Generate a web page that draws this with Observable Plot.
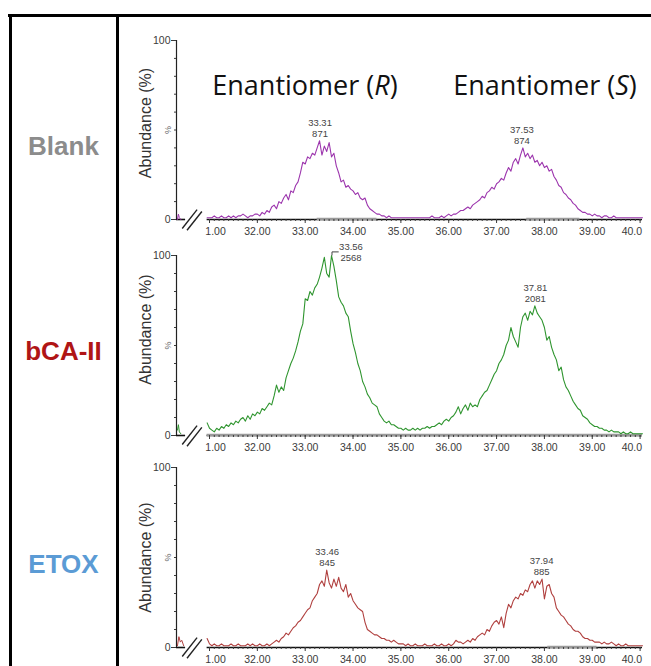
<!DOCTYPE html>
<html><head><meta charset="utf-8">
<script src="https://cdn.jsdelivr.net/npm/d3@7"></script>
<script src="https://cdn.jsdelivr.net/npm/@observablehq/plot@0.6"></script>
<style>
body{margin:0;background:#fff;}
#root{position:relative;width:651px;height:666px;overflow:hidden;font-family:"Liberation Sans",Arial,sans-serif;background:#fff;}
.bar{position:absolute;background:#000;}
.lab{position:absolute;left:10px;width:107px;text-align:center;font-weight:bold;font-size:26px;line-height:26px;white-space:nowrap;}
.title{position:absolute;width:300px;text-align:center;font-family:"Open Sans",sans-serif;font-size:27px;line-height:27px;color:#111;white-space:nowrap;}
.panel{position:absolute;left:0;}
</style></head>
<body><div id="root"></div>
<script>
// ---- sampling grid of the chromatograms (min) ----
const sampleStart = 30.95, sampleStep = 0.05;

// ---- relative abundance (%), 30.95 .. 40.05 min ----
const blankValues = [1,
  1,1,2,1,1,2,1,1,2,1,2,1,2,2,3,2,1,2,2,3,
  3,2,4,3,5,4,7,8,6,10,9,12,14,11,16,15,19,21,26,32,
  31,35,34,37,36,40,44,36,41,38,43,35,37,30,26,21,22,18,19,17,
  16,14,15,12,11,12,8,6,5,4,3,3,2,2,1,2,1,1,1,1,
  1,1,1,1,1,1,1,1,1,1,1,1,1,2,1,1,1,2,1,2,
  3,2,3,3,4,5,5,6,7,6,8,9,10,11,13,12,15,16,18,17,
  20,21,23,22,26,29,27,32,34,31,36,40,35,37,34,36,32,33,30,32,
  29,30,27,28,24,22,19,18,15,14,12,11,9,8,6,5,4,4,3,3,
  2,3,2,2,1,2,2,1,1,2,1,1,1,1,1,1,1,1,1,1,
  1,1];
const bcaValues = [7,
  4,3,2,4,3,5,4,6,5,7,6,8,7,9,10,8,11,9,12,11,
  13,12,15,14,16,18,17,22,28,24,27,25,32,36,40,43,47,52,58,62,
  76,75,80,78,82,84,88,93,99,90,88,100,94,86,77,74,72,68,66,58,
  51,46,40,36,30,27,23,21,18,17,16,12,10,8,7,8,6,6,5,4,
  4,3,4,3,3,4,3,4,3,4,4,5,4,5,5,6,7,6,8,9,
  8,10,11,13,16,12,15,17,14,18,16,17,16,20,22,24,25,28,31,34,
  36,40,42,45,50,53,60,55,52,49,60,66,68,64,69,67,72,68,66,64,
  60,53,55,49,45,42,36,38,31,27,25,22,19,17,15,14,11,10,9,7,
  6,5,5,4,4,3,3,2,3,2,2,2,1,2,1,1,2,1,1,1,
  1,1];
const etoxValues = [5,
  2,1,2,1,1,2,1,1,1,2,1,1,2,1,1,1,2,1,2,1,
  1,2,1,1,2,1,2,3,4,3,5,6,8,7,9,11,12,14,15,17,
  19,21,22,26,28,30,35,37,34,43,36,33,38,34,39,33,31,35,28,30,
  26,24,22,21,20,14,10,9,8,7,7,6,5,5,4,4,3,4,3,2,
  2,2,1,2,1,1,2,1,1,1,2,1,1,1,2,1,1,2,1,1,
  2,1,2,4,3,3,2,3,4,3,5,4,6,7,8,7,10,9,12,14,
  15,13,17,11,19,24,22,26,28,27,30,29,32,31,35,37,33,37,35,38,
  27,34,35,30,28,22,20,18,17,15,13,12,10,9,9,8,6,5,5,4,
  4,3,3,3,2,3,2,2,3,2,1,2,1,1,2,1,1,1,1,1,
  1,1];

// ---- small signal before the axis break [time, %] ----
const blankPre = [[30.33,0],[30.35,3],[30.37,1],[30.40,0]];
const bcaPre   = [[30.33,3],[30.35,6],[30.37,2],[30.40,1]];
const etoxPre  = [[30.33,1],[30.36,6],[30.39,3],[30.42,4],[30.46,1]];

// ---- integration baselines [start, end] (min) ----
const blankIntegr = [[33.25,34.5],[37.63,38.74]];
const bcaIntegr   = [[30.95,40.05]];
const etoxIntegr  = [[38.07,39.1]];

// ---- peak annotations ----
const blankPeakTimes = [33.31, 37.53], blankPeakAreas = [871, 874],  blankPeakHeights = [44, 40];
const bcaPeakTimes   = [33.56, 37.81], bcaPeakAreas   = [2568, 2081], bcaPeakHeights   = [100, 72];
const etoxPeakTimes  = [33.46, 37.94], etoxPeakAreas  = [845, 885],  etoxPeakHeights  = [43, 38];

// ---- labels and ticks ----
const rowLabels = ["Blank", "bCA-II", "ETOX"];
const rowColors = ["#8c8c8c", "#b01515", "#5b9bd5"];
const traceColors = ["#9c35ad", "#2f952f", "#b0403f"];
const xDomain = [30.31, 40.05];
const majorTicks = [31,32,33,34,35,36,37,38,39,40];
const majorLabels = ["","32.00","33.00","34.00","35.00","36.00","37.00","38.00","39.00",""];
const firstTickLabel = "1.00", lastTickLabel = "40.0";
const yTicks = [0, 100], yTickLabels = ["0", "100"];
const yMinorTicks = [0,10,20,30,40,50,60,70,80,90,100];
const minorTicks = d3.range(310, 401).map(d => d / 10);

const root = document.getElementById("root");

function panel(values, pre, integr, pTimes, pAreas, pHeights, color, opts) {
  const trace = values.map((v, i) => ({t: sampleStart + i * sampleStep, v}));
  const t0 = trace[0].t, tEnd = trace[trace.length - 1].t;
  const preData = pre.map(([t, v]) => ({t, v}));
  const integrData = integr.map(([a, b]) => ({a, b}));
  const peaks = pTimes.map((t, i) => ({t, v: pHeights[i], area: pAreas[i]}));
  const lowPeaks = peaks.filter(p => p.v < 95), topPeaks = peaks.filter(p => p.v >= 95);
  const breaks = [
    {x1: t0 - 0.52, y1: -5, x2: t0 - 0.21, y2: 5.5},
    {x1: t0 - 0.42, y1: -6, x2: t0 - 0.11, y2: 4.5}
  ];
  return Plot.plot({
    width: 651, height: opts.height,
    marginLeft: 176, marginRight: 9, marginTop: 30, marginBottom: 20,
    style: {background: "transparent", fontFamily: "'Liberation Sans', Arial, sans-serif", fontSize: "10.5px", color: "#3a3a3a", overflow: "visible"},
    x: {domain: xDomain, axis: null},
    y: {domain: [0, 100], axis: null},
    marks: [
      Plot.text(["Abundance (%)"], {frameAnchor: "left", textAnchor: "middle", rotate: -90, dx: -31, dy: opts.labelDy, fontSize: 16, fill: "#333"}),
      Plot.text(["%"], {frameAnchor: "left", textAnchor: "middle", rotate: -90, dx: -8, fontSize: 9, fill: "#666"}),
      Plot.ruleX([xDomain[0]], {y1: 0, y2: 100, stroke: "#222", strokeWidth: 1.2}),
      Plot.axisY(yMinorTicks, {tickSize: 2, tickFormat: () => ""}),
      Plot.axisY(yTicks, {tickSize: 5, tickPadding: 1, fontSize: 10.5, tickFormat: d => yTickLabels[yTicks.indexOf(d)]}),
      Plot.ruleY([0], {x1: xDomain[0], x2: xDomain[0] + 0.19, stroke: "#111", strokeWidth: 1.6}),
      Plot.ruleY([0], {x1: t0, x2: tEnd, stroke: "#111", strokeWidth: 1.6}),
      Plot.ruleY(integrData, {y: () => 0, x1: "a", x2: "b", stroke: "#9a9a9a", strokeWidth: 2.6, dy: -0.5}),
      Plot.axisX(minorTicks, {tickSize: 2, tickFormat: () => ""}),
      Plot.axisX(majorTicks, {tickSize: 4, tickPadding: 4, fontSize: 10.5, tickFormat: d => majorLabels[majorTicks.indexOf(d)]}),
      Plot.axisX([majorTicks[0]], {tickSize: 0, tickPadding: 8, dx: 6, fontSize: 10.5, tickFormat: () => firstTickLabel}),
      Plot.axisX([majorTicks[majorTicks.length - 1]], {tickSize: 0, tickPadding: 8, dx: 2, fontSize: 10.5, textAnchor: "end", tickFormat: () => lastTickLabel}),
      Plot.link(breaks, {x1: "x1", y1: "y1", x2: "x2", y2: "y2", stroke: "#222", strokeWidth: 1.4}),
      Plot.line(preData, {x: "t", y: "v", stroke: color, strokeWidth: 1}),
      Plot.line(trace, {x: "t", y: "v", stroke: color, strokeWidth: 1.1}),
      Plot.text(lowPeaks, {x: "t", y: "v", text: d => `${d.t.toFixed(2)}\n${d.area}`, lineAnchor: "bottom", dy: -4, fontSize: 9.5, lineHeight: 1.15, fill: "#444"}),
      Plot.link(topPeaks, {x1: "t", y1: "v", x2: "t", y2: d => d.v + 2, stroke: "#444"}),
      Plot.link(topPeaks, {x1: "t", y1: d => d.v + 2, x2: d => d.t + 0.14, y2: d => d.v + 2, stroke: "#444"}),
      Plot.text(topPeaks, {x: "t", y: "v", text: d => `${d.t.toFixed(2)}\n${d.area}`, lineAnchor: "top", dx: 19, dy: -13, fontSize: 9.5, lineHeight: 1.15, fill: "#444"})
    ]
  });
}

const panels = [
  [blankValues, blankPre, blankIntegr, blankPeakTimes, blankPeakAreas, blankPeakHeights, {height: 229, top: 10, labelDy: -7}],
  [bcaValues, bcaPre, bcaIntegr, bcaPeakTimes, bcaPeakAreas, bcaPeakHeights, {height: 230, top: 225, labelDy: -16}],
  [etoxValues, etoxPre, etoxIntegr, etoxPeakTimes, etoxPeakAreas, etoxPeakHeights, {height: 230, top: 437, labelDy: 0}]
];
panels.forEach((p, i) => {
  const svg = panel(p[0], p[1], p[2], p[3], p[4], p[5], traceColors[i], p[6]);
  const wrap = document.createElement("div");
  wrap.className = "panel";
  wrap.style.top = p[6].top + "px";
  wrap.appendChild(svg);
  root.appendChild(wrap);
});

// frame lines of the figure
[[8, 13.5, 643, 3], [8.5, 13.5, 3, 653], [116, 13.5, 3, 653]].forEach(([l, t, w, h]) => {
  const d = document.createElement("div");
  d.className = "bar";
  Object.assign(d.style, {left: l + "px", top: t + "px", width: w + "px", height: h + "px"});
  root.appendChild(d);
});

// row labels
const labelTops = [133, 338, 551];
rowLabels.forEach((txt, i) => {
  const d = document.createElement("div");
  d.className = "lab";
  d.style.top = labelTops[i] + "px";
  d.style.color = rowColors[i];
  d.textContent = txt;
  root.appendChild(d);
});

// enantiomer titles
const titles = [["R", 305], ["S", 545]];
titles.forEach(([e, cx]) => {
  const d = document.createElement("div");
  d.className = "title";
  d.style.left = (cx - 150) + "px";
  d.style.top = "71px";
  d.innerHTML = `Enantiomer (<i>${e}</i>)`;
  root.appendChild(d);
});
</script>
</body></html>
